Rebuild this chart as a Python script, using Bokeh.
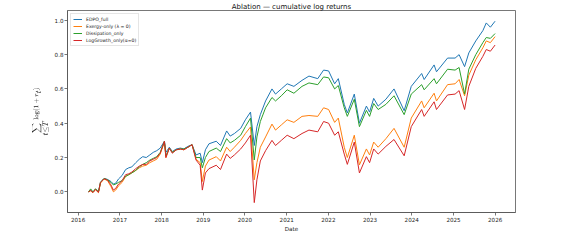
import pandas as pd
from bokeh.plotting import figure
from bokeh.models import (Range1d, FixedTicker, DatetimeTickFormatter, Legend, LegendItem,
                          ColumnDataSource, PrintfTickFormatter)
from bokeh.embed import file_html
from bokeh.resources import INLINE

dates = [
    "2016-04-01", "2016-04-20", "2016-05-10", "2016-06-01", "2016-06-27", "2016-07-15",
    "2016-08-15", "2016-09-15", "2016-10-15", "2016-11-05", "2016-11-25", "2016-12-20",
    "2017-01-20", "2017-02-20", "2017-03-20", "2017-04-15", "2017-05-20", "2017-06-20",
    "2017-07-20", "2017-08-20", "2017-09-20", "2017-10-20", "2017-11-20", "2017-12-20",
    "2018-01-26", "2018-02-08", "2018-03-10", "2018-04-05", "2018-05-10", "2018-06-15",
    "2018-07-15", "2018-08-20", "2018-09-25", "2018-10-30", "2018-12-05", "2018-12-24",
    "2019-01-20", "2019-02-20", "2019-04-25", "2019-06-01", "2019-07-25", "2019-08-25",
    "2019-10-01", "2019-11-25", "2020-01-05", "2020-02-19", "2020-03-23", "2020-04-15",
    "2020-05-15", "2020-06-30", "2020-08-25", "2020-09-25", "2020-11-15", "2021-01-05",
    "2021-03-05", "2021-05-15", "2021-07-15", "2021-09-30", "2021-11-20", "2022-01-03",
    "2022-02-25", "2022-03-29", "2022-05-20", "2022-06-16", "2022-08-16", "2022-09-30",
    "2022-11-30", "2022-12-28", "2023-02-02", "2023-03-13", "2023-05-20", "2023-07-30",
    "2023-10-27", "2023-12-28", "2024-03-28", "2024-04-19", "2024-07-15", "2024-08-05",
    "2024-11-10", "2025-01-15", "2025-02-19", "2025-04-08", "2025-05-15", "2025-07-15",
    "2025-09-15", "2025-10-15", "2025-11-20", "2025-12-31",
]

edpo_full = [
    0.0, 0.01, -0.003, 0.015, 0.0, 0.055, 0.078, 0.072, 0.06, 0.045, 0.05, 0.075,
    0.095, 0.13, 0.14, 0.145, 0.17, 0.19, 0.205, 0.2, 0.215, 0.23, 0.24, 0.255,
    0.295, 0.23, 0.26, 0.235, 0.25, 0.255, 0.25, 0.265, 0.275, 0.215, 0.225, 0.17,
    0.245, 0.28, 0.295, 0.27, 0.355, 0.325, 0.34, 0.37, 0.42, 0.465, 0.27, 0.38,
    0.45, 0.53, 0.6, 0.57, 0.6, 0.63, 0.615, 0.65, 0.675, 0.66, 0.71, 0.705,
    0.63, 0.66, 0.51, 0.46, 0.57, 0.40, 0.5, 0.465, 0.545, 0.5, 0.54, 0.6,
    0.473, 0.615, 0.69, 0.655, 0.74, 0.7, 0.78, 0.78, 0.8, 0.73, 0.81, 0.88,
    0.94, 0.985, 0.96, 0.995,
]

exergy_only = [
    0.0, 0.005, -0.005, 0.012, -0.005, 0.05, 0.075, 0.065, 0.03, 0.0, 0.01, 0.035,
    0.055, 0.09, 0.1, 0.11, 0.125, 0.14, 0.15, 0.155, 0.17, 0.18, 0.19, 0.22,
    0.29, 0.2, 0.255, 0.23, 0.245, 0.25, 0.245, 0.26, 0.275, 0.19, 0.17, 0.06,
    0.15, 0.185, 0.205, 0.18, 0.26, 0.235, 0.26, 0.3, 0.34, 0.378, 0.07, 0.17,
    0.26, 0.32, 0.395, 0.36, 0.39, 0.42, 0.405, 0.44, 0.445, 0.44, 0.49, 0.48,
    0.405, 0.43, 0.26, 0.2, 0.33, 0.157, 0.25, 0.215, 0.29, 0.26, 0.31, 0.37,
    0.26, 0.43, 0.53, 0.49, 0.575, 0.53, 0.625, 0.63, 0.655, 0.56, 0.68, 0.77,
    0.84, 0.88, 0.87, 0.905,
]

dissipation_only = [
    0.0, 0.017, 0.0, 0.018, 0.0, 0.055, 0.078, 0.07, 0.055, 0.04, 0.045, 0.055,
    0.065, 0.09, 0.1, 0.11, 0.125, 0.145, 0.16, 0.17, 0.185, 0.195, 0.205, 0.23,
    0.295, 0.21, 0.255, 0.23, 0.245, 0.25, 0.25, 0.26, 0.275, 0.2, 0.2, 0.14,
    0.2, 0.235, 0.255, 0.235, 0.31, 0.285, 0.3, 0.33, 0.38, 0.43, 0.186, 0.32,
    0.41, 0.49, 0.55, 0.53, 0.56, 0.595, 0.575, 0.615, 0.635, 0.625, 0.67, 0.665,
    0.6, 0.62, 0.49, 0.44, 0.54, 0.38, 0.475, 0.44, 0.515, 0.48, 0.51, 0.56,
    0.45, 0.57, 0.625, 0.595, 0.66, 0.63, 0.715, 0.71, 0.725, 0.57, 0.715, 0.8,
    0.87, 0.9, 0.895, 0.923,
]

loggrowth_only = [
    0.0, 0.008, -0.004, 0.014, -0.003, 0.055, 0.076, 0.068, 0.04, 0.01, 0.02, 0.045,
    0.065, 0.1, 0.105, 0.115, 0.135, 0.15, 0.16, 0.16, 0.18, 0.19, 0.2, 0.225,
    0.295, 0.2, 0.255, 0.225, 0.245, 0.25, 0.245, 0.26, 0.275, 0.185, 0.155, 0.01,
    0.11, 0.135, 0.155, 0.13, 0.22, 0.195, 0.215, 0.25, 0.285, 0.33, -0.063, 0.07,
    0.18, 0.24, 0.3, 0.27, 0.3, 0.33, 0.31, 0.34, 0.36, 0.35, 0.41, 0.4,
    0.33, 0.35, 0.22, 0.16, 0.29, 0.11, 0.205, 0.17, 0.25, 0.22, 0.265, 0.305,
    0.21, 0.38, 0.48, 0.44, 0.525, 0.48, 0.565, 0.57, 0.59, 0.48, 0.615, 0.72,
    0.79, 0.83, 0.82, 0.856,
]

series_names = ["EDPO_full", "Exergy-only (λ = 0)", "Dissipation_only", "LogGrowth_only(α=0)"]
series_colors = ["#1f77b4", "#ff7f0e", "#2ca02c", "#d62728"]
year_ticks = list(range(2016, 2027))
y_ticks = [0.0, 0.2, 0.4, 0.6, 0.8, 1.0]

x = pd.to_datetime(dates)
src = ColumnDataSource(dict(x=x, edpo=edpo_full, exergy=exergy_only,
                            diss=dissipation_only, logg=loggrowth_only))

p = figure(width=561, height=239, x_axis_type="datetime",
           output_backend="svg", toolbar_location=None,
           x_range=Range1d(pd.Timestamp("2015-09-30"), pd.Timestamp("2026-06-28")),
           y_range=Range1d(-0.1207, 1.0575),
           min_border_left=67, min_border_right=46, min_border_top=7, min_border_bottom=27)

p.title.text = "Ablation — cumulative log returns"
p.title.align = "center"
p.title.text_font = "DejaVu Sans"
p.title.text_font_size = "7px"
p.title.text_font_style = "normal"
p.title.text_color = "#111111"
p.title.standoff = 0
p.title.offset = 0

renderers = []
for col, color in zip(["edpo", "exergy", "diss", "logg"], series_colors):
    r = p.line("x", col, source=src, line_color=color, line_width=1)
    renderers.append(r)

legend = Legend(items=[LegendItem(label=n, renderers=[r]) for n, r in zip(series_names, renderers)],
                location="top_left")
legend.label_text_font = "DejaVu Sans"
legend.label_text_font_size = "4.6px"
legend.label_text_color = "#222222"
legend.glyph_width = 9
legend.glyph_height = 6
legend.label_height = 6
legend.label_standoff = 4
legend.spacing = 1
legend.padding = 2
legend.margin = 3
legend.border_line_color = "#cccccc"
legend.border_line_width = 0.6
legend.background_fill_alpha = 0.8
p.add_layout(legend)

p.xgrid.visible = False
p.ygrid.visible = False
p.outline_line_color = "#555555"
p.outline_line_width = 0.8

p.xaxis.ticker = FixedTicker(ticks=[pd.Timestamp(f"{y}-01-01").value / 1e6 for y in year_ticks])
p.xaxis.formatter = DatetimeTickFormatter(days="%Y", months="%Y", years="%Y")
p.yaxis.ticker = FixedTicker(ticks=y_ticks)
p.yaxis.formatter = PrintfTickFormatter(format="%.1f")

for ax in (p.xaxis[0], p.yaxis[0]):
    ax.axis_line_color = "#555555"
    ax.axis_line_width = 0.8
    ax.major_tick_line_color = "#555555"
    ax.major_tick_line_width = 0.8
    ax.major_tick_out = 3
    ax.major_tick_in = 0
    ax.minor_tick_line_color = None
    ax.major_label_text_font = "DejaVu Sans"
    ax.major_label_text_font_size = "5.6px"
    ax.major_label_text_color = "#222222"
    ax.major_label_standoff = 1
    ax.axis_label_text_font = "DejaVu Sans"
    ax.axis_label_text_font_size = "5.6px"
    ax.axis_label_text_font_style = "normal"
    ax.axis_label_text_color = "#222222"

p.xaxis.axis_label = "Date"
p.xaxis.axis_label_standoff = 1
p.yaxis.axis_label = r"$$\sum_{t \le T} \log(1 + r_t)$$"
p.yaxis.axis_label_text_font_size = "4.8px"
p.yaxis.axis_label_standoff = 2

open("out.html", "w").write(file_html(p, INLINE))
